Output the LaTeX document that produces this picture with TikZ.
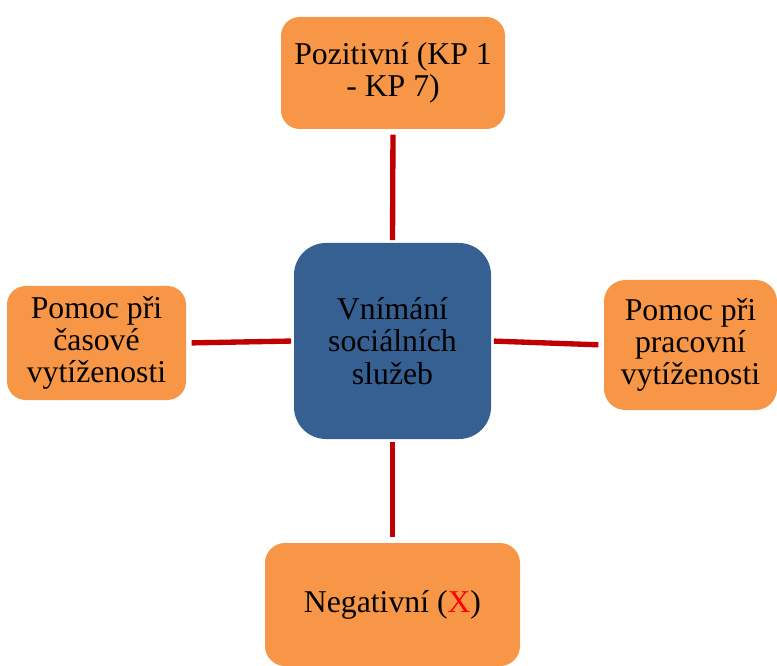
\documentclass[tikz,border=0pt]{standalone}
\usepackage{fontspec}
\setmainfont{Liberation Serif}
\definecolor{boxorange}{HTML}{F79646}
\definecolor{boxblue}{HTML}{376092}
\definecolor{linkred}{HTML}{C00000}
\definecolor{markred}{HTML}{FF0000}
\begin{document}
\begin{tikzpicture}[x=0.75pt,y=-0.75pt,
  card/.style={fill=boxorange, draw=none, align=center, inner sep=0pt,
    font=\fontsize{23.8}{23.8}\selectfont},
  hub/.style={fill=boxblue, draw=none, align=center, inner sep=0pt,
    font=\fontsize{23.8}{24.6}\selectfont},
  link/.style={draw=linkred, line width=4pt}]
\useasboundingbox (0,0) rectangle (777,666);

% central topic
\node[hub, minimum width=147.75pt, minimum height=147pt, rounded corners=24pt]
  (hub) at (392.5,341) {Vnímání\\sociálních\\služeb};

% surrounding topics
\node[card, minimum width=168pt, minimum height=84pt, rounded corners=14pt]
  (pos) at (393,73) {Pozitivní (KP 1\\- KP 7)};
\node[card, minimum width=134.25pt, minimum height=85.5pt, rounded corners=14pt]
  (time) at (96.5,343) {Pomoc při\\časové\\vytíženosti};
\node[card, minimum width=129.75pt, minimum height=97.5pt, rounded corners=16pt]
  (work) at (690.5,345) {Pomoc při\\pracovní\\vytíženosti};
\node[card, minimum width=191.25pt, minimum height=92.25pt, rounded corners=15pt]
  (neg) at (392.5,604.5) {Negativní (\textcolor{markred}{X})};

% connectors
\draw[link, shorten <=4pt, shorten >=2pt] (pos.south) -- (hub.north);
\draw[link, shorten <=4pt, shorten >=2pt] (time.east) -- (hub.west);
\draw[link, shorten <=2pt, shorten >=4pt] (hub.east) -- (work.west);
\draw[link, shorten <=2pt, shorten >=4pt] (hub.south) -- (neg.north);
\end{tikzpicture}
\end{document}
